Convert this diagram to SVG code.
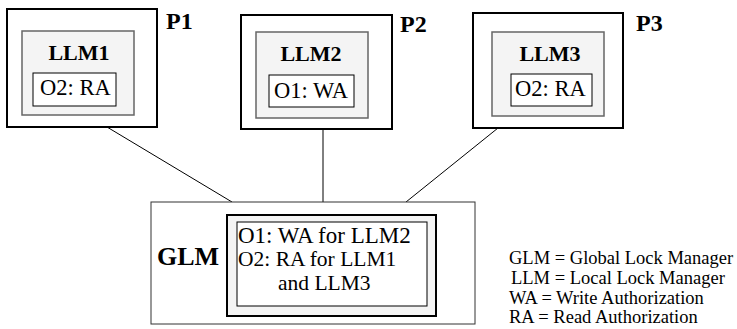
<svg xmlns="http://www.w3.org/2000/svg" width="737" height="329" viewBox="0 0 737 329">
<style>
.proc{fill:#fff;stroke:#000;stroke-width:2}
.llm{fill:#f4f4f4;stroke:#666;stroke-width:1.5}
.obj{fill:#fff;stroke:#000;stroke-width:1}
.conn{stroke:#000;stroke-width:1;fill:none}
text{font-family:'Liberation Serif','Times New Roman',Tinos,Times,'DejaVu Serif','Noto Serif',serif;fill:#000}
.b{font-weight:bold}
</style>
<rect width="737" height="329" fill="#fff"/>
<g id="connectors">
<line class="conn" x1="107" y1="127" x2="232" y2="202"/>
<line class="conn" x1="323" y1="129" x2="323" y2="202"/>
<line class="conn" x1="498" y1="128" x2="406" y2="202"/>
</g>
<g id="P1">
<rect class="proc" x="7" y="9" width="150" height="118"/>
<rect class="llm" x="22" y="31" width="112" height="84"/>
<text class="b" x="79" y="60" font-size="22" text-anchor="middle">LLM1</text>
<rect class="obj" x="33" y="73" width="83" height="33"/>
<text x="40" y="95" font-size="22.5">O2: RA</text>
<text class="b" x="166" y="29" font-size="24">P1</text>
</g>
<g id="P2">
<rect class="proc" x="241" y="15" width="151" height="114"/>
<rect class="llm" x="256" y="32" width="112" height="86"/>
<text class="b" x="311" y="61" font-size="22" text-anchor="middle">LLM2</text>
<rect class="obj" x="269" y="75" width="85" height="32"/>
<text x="274" y="98" font-size="22.5">O1: WA</text>
<text class="b" x="400" y="32" font-size="24">P2</text>
</g>
<g id="P3">
<rect class="proc" x="473" y="13" width="150" height="115"/>
<rect class="llm" x="492" y="32" width="112" height="84"/>
<text class="b" x="550" y="61" font-size="22" text-anchor="middle">LLM3</text>
<rect class="obj" x="511" y="74" width="81" height="32"/>
<text x="515" y="96" font-size="22.5">O2: RA</text>
<text class="b" x="636" y="31" font-size="24">P3</text>
</g>
<g id="GLM">
<rect x="151" y="202" width="324" height="122" fill="#fff" stroke="#333" stroke-width="1"/>
<rect x="227" y="215" width="209" height="101" fill="#f4f4f4" stroke="#000" stroke-width="2"/>
<rect class="obj" x="237" y="222" width="190" height="84"/>
<text class="b" x="157" y="265" font-size="26">GLM</text>
<text x="238" y="243" font-size="23">O1: WA for LLM2</text>
<text x="238" y="266" font-size="21.5">O2: RA for LLM1</text>
<text x="278" y="290" font-size="21.5">and LLM3</text>
</g>
<g id="legend">
<text x="509" y="264" font-size="18.5">GLM = Global Lock Manager</text>
<text x="511" y="284" font-size="18.5">LLM = Local Lock Manager</text>
<text x="509" y="304" font-size="18.5">WA = Write Authorization</text>
<text x="509" y="323" font-size="18.5">RA = Read Authorization</text>
</g>
</svg>
